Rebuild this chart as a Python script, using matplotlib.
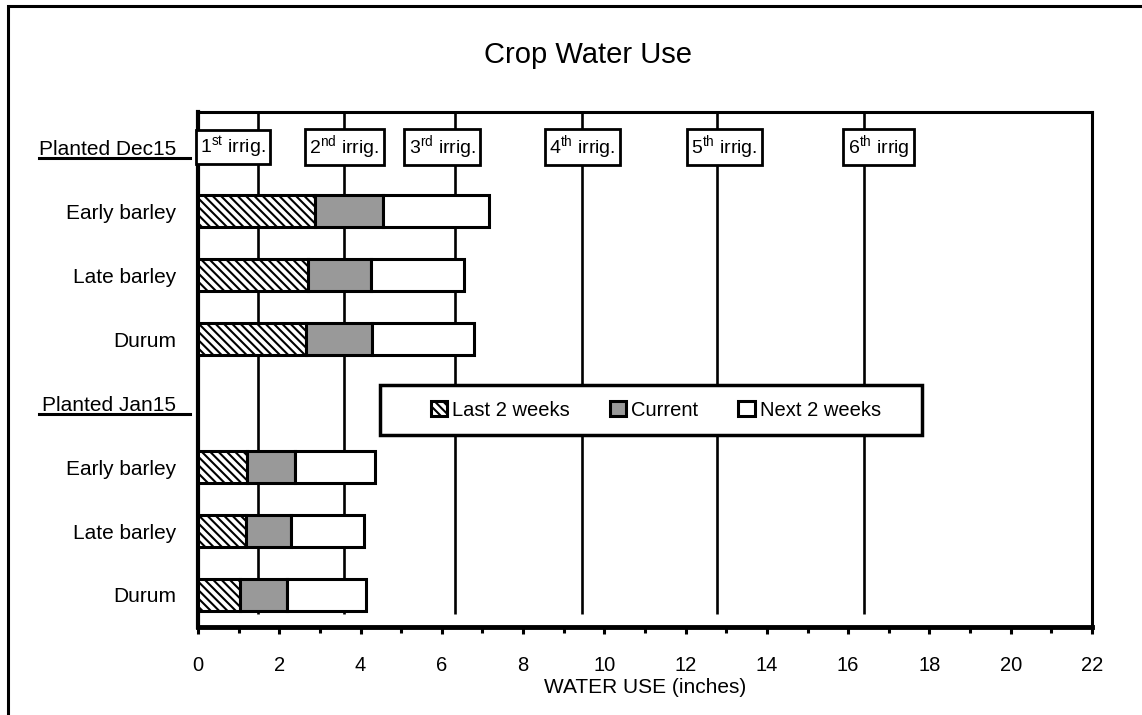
import matplotlib.pyplot as plt
import matplotlib.transforms as mtransforms
from matplotlib.patches import Rectangle
from matplotlib.lines import Line2D
import numpy as np

plt.rcParams["font.family"] = ["Liberation Sans", "DejaVu Sans"]
plt.rcParams["mathtext.fontset"] = "custom"
plt.rcParams["mathtext.rm"] = "Liberation Sans"
plt.rcParams["mathtext.it"] = "Liberation Sans"
plt.rcParams["hatch.linewidth"] = 1.5

# Row labels, top to bottom (group headers have no bars)
rows = ["Planted Dec15", "Early barley", "Late barley", "Durum",
        "Planted Jan15", "Early barley", "Late barley", "Durum"]
group_rows = [0, 4]

# Water use (inches) per crop row
bar_rows = [1, 2, 3, 5, 6, 7]
last_2_weeks = [2.88, 2.71, 2.66, 1.21, 1.18, 1.03]
current = [1.68, 1.55, 1.63, 1.18, 1.11, 1.16]
next_2_weeks = [2.59, 2.28, 2.51, 1.97, 1.80, 1.95]

# Irrigation marks
irrig_x = [1.48, 3.6, 6.33, 9.46, 12.76, 16.4]
irrig_labels = [r"1$^{\mathrm{st}}$ irrig.", r"2$^{\mathrm{nd}}$ irrig.",
                r"3$^{\mathrm{rd}}$ irrig.", r"4$^{\mathrm{th}}$ irrig.",
                r"5$^{\mathrm{th}}$ irrig.", r"6$^{\mathrm{th}}$ irrig"]
label_shift = [-25, 0, -13, 0, 8, 14]  # pixel nudges of the label boxes

fig = plt.figure(figsize=(11.42, 7.15), dpi=100)
ax = fig.add_axes([0.1734, 0.1231, 0.7828, 0.7203])

# outer frame
fig.add_artist(Rectangle((8 / 1142, -0.1), 1.2, 1.1 - 6 / 715, transform=fig.transFigure,
                         fill=False, edgecolor="black", linewidth=2.2))

# irrigation lines
ax.vlines(irrig_x, -0.6, 7.3, color="black", linewidth=1.9, zorder=1)

h = 0.5
left2 = np.array(last_2_weeks)
left3 = left2 + np.array(current)
ax.barh(bar_rows, last_2_weeks, height=h, color="white", edgecolor="black",
        hatch="\\\\\\\\", linewidth=2.2, label="Last 2 weeks", zorder=3)
ax.barh(bar_rows, current, left=left2, height=h, color="#999999", edgecolor="black",
        linewidth=2.2, label="Current", zorder=3)
ax.barh(bar_rows, next_2_weeks, left=left3, height=h, color="white", edgecolor="black",
        linewidth=2.2, label="Next 2 weeks", zorder=3)

for x, lab, dx in zip(irrig_x, irrig_labels, label_shift):
    ax.annotate(lab, xy=(x, 0), xytext=(dx * 0.72, 0), textcoords="offset points",
                ha="center", va="center", fontsize=14, zorder=5,
                bbox=dict(boxstyle="square,pad=0.22", facecolor="white",
                          edgecolor="black", linewidth=2))

ax.set_xlim(0, 22)
ax.set_ylim(7.5, -0.55)
ax.set_xticks(np.arange(0, 23, 2))
ax.set_xticks(np.arange(0, 23, 1), minor=True)
ax.tick_params(axis="x", which="major", length=5, width=2.2, labelsize=14.5, pad=16)
ax.tick_params(axis="x", which="minor", length=4, width=2.2)
ax.set_yticks(range(len(rows)))
ax.set_yticklabels(rows, fontsize=15)
ax.tick_params(axis="y", length=0, pad=16)
ax.set_xlabel("WATER USE (inches)", fontsize=15, labelpad=2)

for side, lw in [("left", 3), ("bottom", 3.5), ("top", 2.2), ("right", 2.2)]:
    ax.spines[side].set_linewidth(lw)

# underline the group headers
trans = mtransforms.blended_transform_factory(fig.transFigure, ax.transData)
for r in group_rows:
    fig.add_artist(Line2D([39 / 1142, 190 / 1142], [r + 0.17, r + 0.17], transform=trans,
                          color="black", linewidth=2.2))

# legend frame drawn separately (wider side padding than a legend frame allows)
ax.add_patch(Rectangle((0.2036, 0.3728), 0.6062, 0.0971, transform=ax.transAxes,
                       facecolor="white", edgecolor="black", linewidth=2.5,
                       zorder=6, clip_on=False))
leg = ax.legend(loc="center", bbox_to_anchor=(0.512, 0.421), ncol=3, fontsize=14.5,
                frameon=False, handlelength=0.8, handleheight=0.8, handletextpad=0.25,
                columnspacing=2.0, borderpad=0, borderaxespad=0)
leg.set_zorder(7)

fig.text(0.515, 1 - 55 / 715, "Crop Water Use", ha="center", va="center", fontsize=21)

fig.savefig("out.png", dpi=100)
